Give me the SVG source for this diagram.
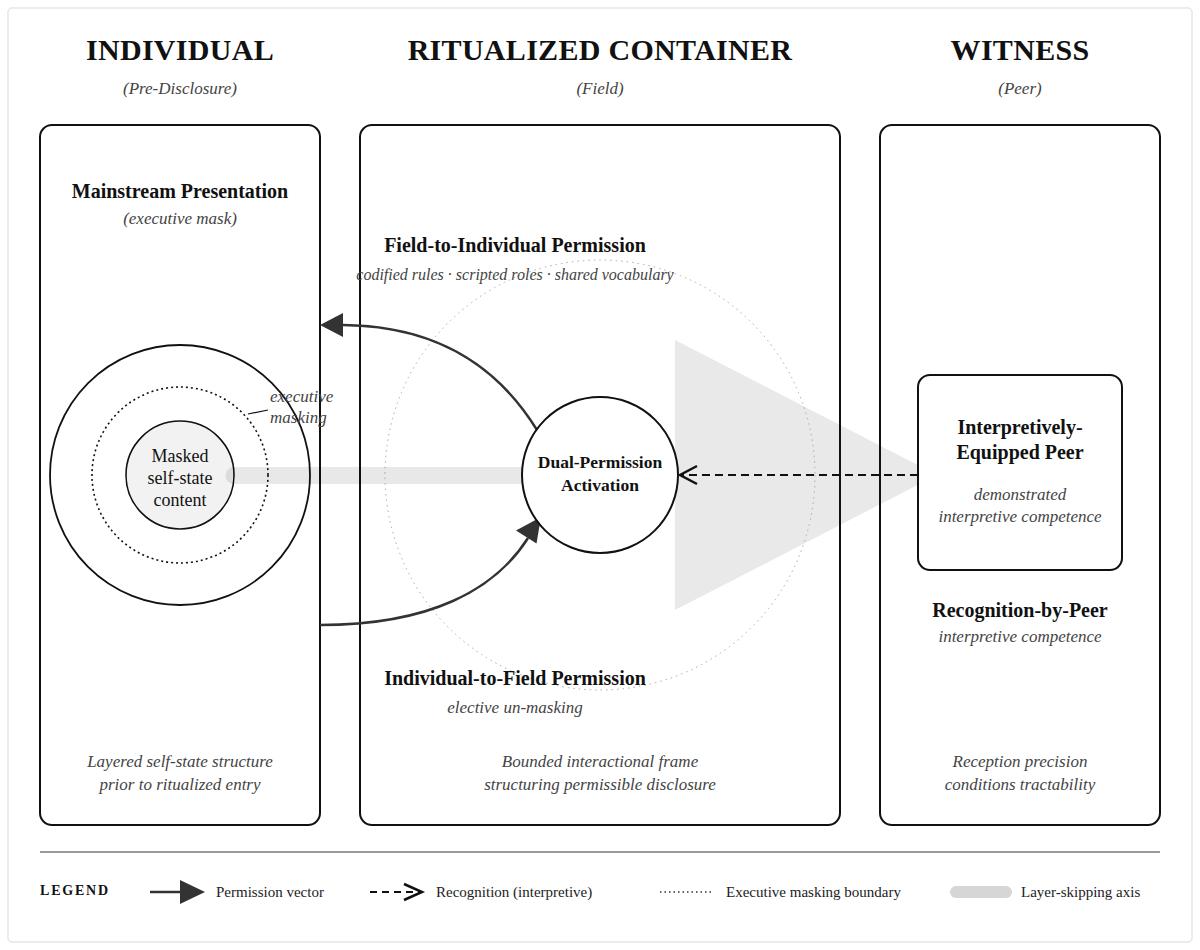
<svg xmlns="http://www.w3.org/2000/svg" width="1200" height="950" viewBox="0 0 1200 950">
<style>
text{font-family:"Liberation Serif","Times New Roman",serif;}
.title{font-size:30px;font-weight:bold;fill:#111;text-anchor:middle;letter-spacing:0.3px;}
.sub{font-size:17px;font-style:italic;fill:#444;text-anchor:middle;}
.head{font-size:20px;font-weight:bold;fill:#111;text-anchor:middle;}
.it{font-size:17px;font-style:italic;fill:#444;text-anchor:middle;}
.body{font-size:18px;fill:#111;text-anchor:middle;}
.leg{font-size:15px;fill:#222;}
.panel{fill:none;stroke:#111;stroke-width:2;}
.perm{fill:none;stroke:#333;stroke-width:2.5;}
.chev{fill:none;stroke:#111;stroke-width:2.5;}
</style>
<rect x="8" y="8" width="1184" height="934" rx="4" fill="#fff" stroke="#e6e6e6" stroke-width="1.5"/>

<!-- background shapes -->
<polygon points="675,340 937,475 675,610" fill="#e9e9e9"/>
<circle cx="600" cy="475" r="215" fill="none" stroke="#aaa" stroke-width="1" stroke-dasharray="1.5,4"/>

<g id="titles">
<text class="title" x="180" y="60">INDIVIDUAL</text>
<text class="sub" x="180" y="94">(Pre-Disclosure)</text>
<text class="title" x="600" y="60">RITUALIZED CONTAINER</text>
<text class="sub" x="600" y="94">(Field)</text>
<text class="title" x="1020" y="60">WITNESS</text>
<text class="sub" x="1020" y="94">(Peer)</text>
</g>

<g id="panel-individual">
<rect class="panel" x="40" y="125" width="280" height="700" rx="12"/>
<text class="head" x="180" y="198">Mainstream Presentation</text>
<text class="it" x="180" y="224">(executive mask)</text>
<text class="it" x="180" y="767">Layered self-state structure</text>
<text class="it" x="180" y="790">prior to ritualized entry</text>
</g>
<g id="panel-container">
<rect class="panel" x="360" y="125" width="480" height="700" rx="12"/>
<text class="head" x="515" y="252">Field-to-Individual Permission</text>
<text class="it" x="515" y="280" style="font-size:16px">codified rules · scripted roles · shared vocabulary</text>
<text class="head" x="515" y="685">Individual-to-Field Permission</text>
<text class="it" x="515" y="713">elective un-masking</text>
<text class="it" x="600" y="767">Bounded interactional frame</text>
<text class="it" x="600" y="790">structuring permissible disclosure</text>
</g>
<g id="panel-witness">
<rect class="panel" x="880" y="125" width="280" height="700" rx="12"/>
<text class="head" x="1020" y="617">Recognition-by-Peer</text>
<text class="it" x="1020" y="642">interpretive competence</text>
<text class="it" x="1020" y="767">Reception precision</text>
<text class="it" x="1020" y="790">conditions tractability</text>
</g>

<g id="self-state">
<circle cx="180" cy="475" r="130" fill="none" stroke="#111" stroke-width="1.8"/>
<circle cx="180" cy="475" r="88" fill="none" stroke="#111" stroke-width="1.6" stroke-dasharray="2,3"/>
<circle cx="180" cy="475" r="54" fill="#f2f2f2" stroke="#111" stroke-width="1.6"/>
<line x1="248" y1="414" x2="268" y2="410" stroke="#111" stroke-width="1.2"/>
<text x="270" y="402" style="font-size:17px;font-style:italic;fill:#444">executive</text>
<text x="270" y="423" style="font-size:17px;font-style:italic;fill:#444">masking</text>
</g>

<!-- layer-skipping axis -->
<line x1="234" y1="475.5" x2="600" y2="475.5" stroke="#000" stroke-opacity="0.09" stroke-width="17" stroke-linecap="round"/>
<g id="self-state-label">
<text class="body" x="180" y="462">Masked</text>
<text class="body" x="180" y="484">self-state</text>
<text class="body" x="180" y="506">content</text>
</g>

<g id="connectors">
<path class="perm" d="M537,430 C505,378 450,326 343,325"/>
<polygon points="320,325 343,313 343,337" fill="#333"/>
<path class="perm" d="M320,625 C430,625 495,590 528,538"/>
<polygon points="541,517 536.5,543.5 516,530.5" fill="#333"/>
<line x1="918" y1="475" x2="681" y2="475" stroke="#111" stroke-width="2" stroke-dasharray="8,5"/>
<path class="chev" d="M697,466 L680,475 L697,484"/>
</g>

<g id="dual-permission">
<circle cx="600" cy="475" r="78" fill="#fff" stroke="#111" stroke-width="2"/>
<text x="600" y="468" style="font-size:17.5px;font-weight:bold;fill:#111;text-anchor:middle">Dual-Permission</text>
<text x="600" y="491" style="font-size:17.5px;font-weight:bold;fill:#111;text-anchor:middle">Activation</text>
</g>

<g id="peer">
<rect x="918" y="375" width="204" height="195" rx="12" fill="#fff" stroke="#111" stroke-width="2"/>
<text class="head" x="1020" y="434">Interpretively-</text>
<text class="head" x="1020" y="459">Equipped Peer</text>
<text class="it" x="1020" y="500">demonstrated</text>
<text class="it" x="1020" y="522">interpretive competence</text>
</g>

<g id="legend">
<line x1="40" y1="852" x2="1160" y2="852" stroke="#999" stroke-width="2"/>
<text x="40" y="895" style="font-size:14px;font-weight:bold;fill:#111;letter-spacing:1.8px">LEGEND</text>
<line x1="150" y1="892" x2="182" y2="892" stroke="#333" stroke-width="2.5"/>
<polygon points="205,892 180,880 180,904" fill="#333"/>
<text class="leg" x="216" y="897">Permission vector</text>
<line x1="370" y1="892" x2="420" y2="892" stroke="#111" stroke-width="2" stroke-dasharray="7,5"/>
<path class="chev" d="M404,884 L422,892 L404,900"/>
<text class="leg" x="436" y="897">Recognition (interpretive)</text>
<line x1="660" y1="892" x2="714" y2="892" stroke="#333" stroke-width="1.3" stroke-dasharray="1.5,3"/>
<text class="leg" x="726" y="897">Executive masking boundary</text>
<rect x="950" y="886" width="62" height="12" rx="6" fill="#d6d6d6"/>
<text class="leg" x="1021" y="897">Layer-skipping axis</text>
</g>
</svg>
